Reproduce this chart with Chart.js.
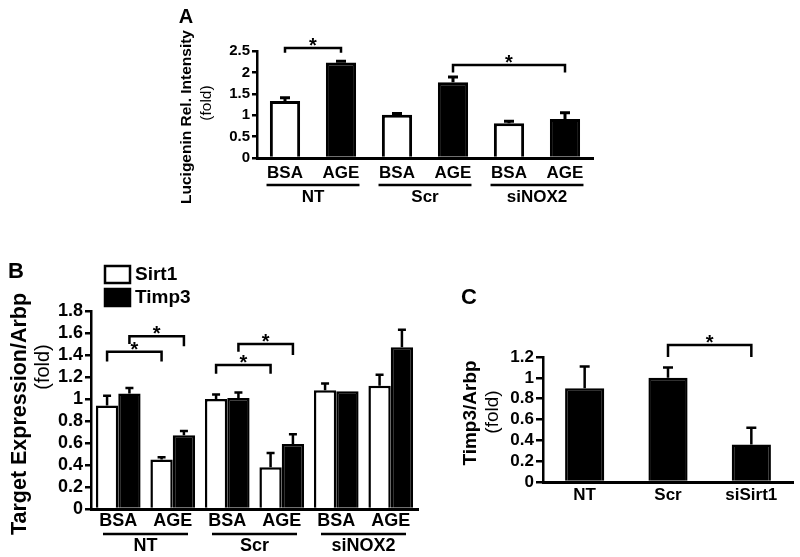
<!DOCTYPE html>
<html><head><meta charset="utf-8">
<script src="https://cdn.jsdelivr.net/npm/chart.js@4.4.1/dist/chart.umd.min.js"></script>
<style>
html,body{margin:0;padding:0;background:#fff;}
#wrap{position:relative;width:800px;height:557px;overflow:hidden;}
#wrap canvas{position:absolute;left:0;top:0;}
</style></head><body>
<div id="wrap">
<canvas id="cA" width="800" height="557"></canvas>
<canvas id="cB" width="800" height="557"></canvas>
<canvas id="cC" width="800" height="557"></canvas>
</div>
<script>
// ---------- DATA ----------
// Panel A
const catsA = ['BSA', 'AGE', 'BSA', 'AGE', 'BSA', 'AGE'];
const groupsA = ['NT', 'Scr', 'siNOX2'];
const valuesA = [1.33, 2.23, 1.01, 1.77, 0.81, 0.91];
const errorsA = [0.08, 0.03, 0.03, 0.12, 0.05, 0.15];
const yTicksA = [0, 0.5, 1, 1.5, 2, 2.5];
const yTickLabelsA = ['0', '0.5', '1', '1.5', '2', '2.5'];

// Panel B
const catsB = ['BSA', 'AGE', 'BSA', 'AGE', 'BSA', 'AGE'];
const groupsB = ['NT', 'Scr', 'siNOX2'];
const seriesNamesB = ['Sirt1', 'Timp3'];
const sirt1B = [0.94, 0.45, 1.00, 0.38, 1.08, 1.12];
const sirt1ErrB = [0.09, 0.02, 0.04, 0.13, 0.06, 0.10];
const timp3B = [1.05, 0.67, 1.01, 0.59, 1.07, 1.47];
const timp3ErrB = [0.05, 0.04, 0.05, 0.09, 0.00, 0.16];
const yTicksB = [0, 0.2, 0.4, 0.6, 0.8, 1, 1.2, 1.4, 1.6, 1.8];
const yTickLabelsB = ['0', '0.2', '0.4', '0.6', '0.8', '1', '1.2', '1.4', '1.6', '1.8'];

// Panel C
const catsC = ['NT', 'Scr', 'siSirt1'];
const valuesC = [0.90, 1.00, 0.36];
const errorsC = [0.21, 0.10, 0.16];
const yTicksC = [0, 0.2, 0.4, 0.6, 0.8, 1, 1.2];
const yTickLabelsC = ['0', '0.2', '0.4', '0.6', '0.8', '1', '1.2'];

// significance brackets: [category, dataset] endpoints, heights in data units
const sigA = [
  { from: [0, 0], to: [1, 0], top: 2.57, legFrom: 2.46, legTo: 2.46 },
  { from: [3, 0], to: [5, 0], top: 2.17, legFrom: 2.0, legTo: 2.0 }
];
const sigB = [
  { from: [0, 0], to: [1, 0], top: 1.43, legFrom: 1.34, legTo: 1.34 },
  { from: [0, 1], to: [1, 1], top: 1.57, legFrom: 1.50, legTo: 1.48 },
  { from: [2, 0], to: [3, 0], top: 1.31, legFrom: 1.23, legTo: 1.23 },
  { from: [2, 1], to: [3, 1], top: 1.50, legFrom: 1.43, legTo: 1.40 }
];
const sigC = [
  { from: [1, 0], to: [2, 0], top: 1.315, legFrom: 1.2, legTo: 1.2 }
];

// ---------- STYLE / HELPERS ----------
const FF = "'Liberation Sans', Arial, Helvetica, sans-serif";
Chart.defaults.font.family = FF;
Chart.defaults.color = '#000';

function fixedTicks(vals) {
  return s => { s.ticks = vals.map(v => ({ value: v })); };
}

function drawErrorBars(chart, errs, capW, lw) {
  const ctx = chart.ctx, ys = chart.scales.y;
  ctx.save();
  ctx.strokeStyle = '#000';
  ctx.lineWidth = lw;
  chart.data.datasets.forEach((ds, di) => {
    const meta = chart.getDatasetMeta(di);
    meta.data.forEach((el, i) => {
      const e = errs[di][i];
      if (!e) return;
      const yTop = ys.getPixelForValue(ds.data[i]);
      const yE = ys.getPixelForValue(ds.data[i] + e);
      ctx.beginPath();
      ctx.moveTo(el.x, yTop);
      ctx.lineTo(el.x, yE);
      ctx.moveTo(el.x - capW / 2, yE);
      ctx.lineTo(el.x + capW / 2, yE);
      ctx.stroke();
    });
  });
  ctx.restore();
}

function drawBrackets(chart, sigs, lw, starSize) {
  const ctx = chart.ctx, ys = chart.scales.y;
  ctx.save();
  ctx.strokeStyle = '#000';
  ctx.fillStyle = '#000';
  ctx.lineWidth = lw;
  sigs.forEach(s => {
    const x1 = chart.getDatasetMeta(s.from[1]).data[s.from[0]].x;
    const x2 = chart.getDatasetMeta(s.to[1]).data[s.to[0]].x;
    const yt = ys.getPixelForValue(s.top);
    ctx.beginPath();
    ctx.moveTo(x1, ys.getPixelForValue(s.legFrom));
    ctx.lineTo(x1, yt);
    ctx.lineTo(x2, yt);
    ctx.lineTo(x2, ys.getPixelForValue(s.legTo));
    ctx.stroke();
    ctx.font = 'bold ' + starSize + 'px ' + FF;
    ctx.textAlign = 'center';
    ctx.textBaseline = 'alphabetic';
    ctx.fillText('*', (x1 + x2) / 2, yt + starSize * 0.2);
  });
  ctx.restore();
}

function drawRotated(ctx, text, x, y, font) {
  ctx.save();
  ctx.translate(x, y);
  ctx.rotate(-Math.PI / 2);
  ctx.font = font;
  ctx.textAlign = 'center';
  ctx.textBaseline = 'middle';
  ctx.fillStyle = '#000';
  ctx.fillText(text, 0, 0);
  ctx.restore();
}

function drawGroups(chart, groups, lineY, labelY, frac, font, lw) {
  const ctx = chart.ctx, xs = chart.scales.x;
  const cw = xs.getPixelForValue(1) - xs.getPixelForValue(0);
  ctx.save();
  ctx.strokeStyle = '#000';
  ctx.fillStyle = '#000';
  ctx.lineWidth = lw;
  ctx.font = font;
  ctx.textAlign = 'center';
  ctx.textBaseline = 'middle';
  groups.forEach((g, gi) => {
    const c = (xs.getPixelForValue(gi * 2) + xs.getPixelForValue(gi * 2 + 1)) / 2;
    const half = cw * frac;
    ctx.beginPath();
    ctx.moveTo(c - half, lineY);
    ctx.lineTo(c + half, lineY);
    ctx.stroke();
    ctx.fillText(g, c, labelY);
  });
  ctx.restore();
}

function drawLetter(ctx, t, x, y, size) {
  ctx.save();
  ctx.font = 'bold ' + size + 'px ' + FF;
  ctx.textAlign = 'center';
  ctx.textBaseline = 'middle';
  ctx.fillStyle = '#000';
  ctx.fillText(t, x, y);
  ctx.restore();
}

function yScaleOpts(min, max, ticks, labels, fontSize, tickLen, pad, width) {
  return {
    min: min, max: max,
    afterBuildTicks: fixedTicks(ticks),
    afterFit: s => { s.width = width; },
    ticks: {
      autoSkip: false,
      callback: (v, i) => labels[i],
      font: { size: fontSize, weight: 'bold' },
      color: '#000',
      padding: pad
    },
    grid: { display: true, drawOnChartArea: false, drawTicks: true, tickLength: tickLen, color: '#000', lineWidth: 2.5 },
    border: { display: true, color: '#000', width: 2.5 }
  };
}

function xScaleOpts(fontSize, pad, height, borderW) {
  return {
    z: 1,
    afterFit: s => { s.height = height; },
    ticks: { font: { size: fontSize, weight: 'bold' }, color: '#000', padding: pad, maxRotation: 0, autoSkip: false },
    grid: { display: false, drawTicks: false },
    border: { display: true, color: '#000', width: borderW }
  };
}

const common = {
  responsive: false,
  animation: false,
  devicePixelRatio: 1,
  plugins: { legend: { display: false }, tooltip: { enabled: false } }
};

// ---------- PANEL A ----------
new Chart(document.getElementById('cA'), {
  type: 'bar',
  data: {
    labels: catsA,
    datasets: [{
      data: valuesA,
      backgroundColor: valuesA.map((v, i) => i % 2 === 0 ? '#ffffff' : '#000000'),
      borderColor: '#000',
      borderWidth: 3,
      borderSkipped: 'start',
      barPercentage: 0.54,
      categoryPercentage: 1.0
    }]
  },
  options: Object.assign({}, common, {
    layout: { padding: { left: 190, right: 800 - 593, top: 51, bottom: 557 - 158 - 40 } },
    scales: {
      x: xScaleOpts(17, 5, 40, 3),
      y: yScaleOpts(0, 2.5, yTicksA, yTickLabelsA, 15, 5, 2, 257 - 190)
    }
  }),
  plugins: [{
    id: 'decoA',
    afterDatasetsDraw(chart) {
      drawErrorBars(chart, [errorsA], 10, 3);
    },
    afterDraw(chart) {
      const ctx = chart.ctx;
      drawBrackets(chart, sigA, 2.5, 20);
      drawGroups(chart, groupsA, 185, 197, 0.83, 'bold 17px ' + FF, 2.5);
      drawRotated(ctx, 'Lucigenin Rel. Intensity', 187, 117, 'bold 15.5px ' + FF);
      drawRotated(ctx, '(fold)', 207, 103, '15.5px ' + FF);
      drawLetter(ctx, 'A', 186, 17, 20);
    }
  }]
});

// ---------- PANEL B ----------
new Chart(document.getElementById('cB'), {
  type: 'bar',
  data: {
    labels: catsB,
    datasets: [
      { label: seriesNamesB[0], data: sirt1B, backgroundColor: '#ffffff', borderColor: '#000', borderWidth: 2.5, borderSkipped: 'start', categoryPercentage: 0.82, barPercentage: 1.0 },
      { label: seriesNamesB[1], data: timp3B, backgroundColor: '#000000', borderColor: '#000', borderWidth: 2.5, borderSkipped: 'start', categoryPercentage: 0.82, barPercentage: 1.0 }
    ]
  },
  options: Object.assign({}, common, {
    layout: { padding: { left: 55, right: 800 - 418, top: 311, bottom: 557 - 509 - 20 } },
    scales: {
      x: xScaleOpts(18, 1, 20, 3),
      y: yScaleOpts(0, 1.8, yTicksB, yTickLabelsB, 18, 6, 2, 91 - 55)
    }
  }),
  plugins: [{
    id: 'decoB',
    afterDatasetsDraw(chart) {
      drawErrorBars(chart, [sirt1ErrB, timp3ErrB], 8, 2.5);
    },
    afterDraw(chart) {
      const ctx = chart.ctx;
      drawBrackets(chart, sigB, 2.5, 20);
      drawGroups(chart, groupsB, 534, 546, 0.78, 'bold 18px ' + FF, 2.5);
      drawRotated(ctx, 'Target Expression/Arbp', 20, 414, 'bold 21.5px ' + FF);
      drawRotated(ctx, '(fold)', 43, 367, '20px ' + FF);
      drawLetter(ctx, 'B', 16, 272, 22);
      // legend
      ctx.save();
      chart.data.datasets.forEach((ds, i) => {
        const y0 = 266 + i * 23;
        ctx.fillStyle = ds.backgroundColor;
        ctx.fillRect(105, y0, 25, 17);
        ctx.strokeStyle = '#000';
        ctx.lineWidth = 2.5;
        ctx.strokeRect(105, y0, 25, 17);
        ctx.fillStyle = '#000';
        ctx.font = 'bold 19px ' + FF;
        ctx.textAlign = 'left';
        ctx.textBaseline = 'middle';
        ctx.fillText(ds.label, 135, y0 + 9);
      });
      ctx.restore();
    }
  }]
});

// ---------- PANEL C ----------
new Chart(document.getElementById('cC'), {
  type: 'bar',
  data: {
    labels: catsC,
    datasets: [{
      data: valuesC,
      backgroundColor: '#000000',
      borderColor: '#000',
      borderWidth: 2.5,
      borderSkipped: 'start',
      barPercentage: 0.47,
      categoryPercentage: 1.0
    }]
  },
  options: Object.assign({}, common, {
    layout: { padding: { left: 500, right: 800 - 793, top: 357, bottom: 557 - 482 - 30 } },
    scales: {
      x: xScaleOpts(17, 3, 30, 3),
      y: yScaleOpts(0, 1.2, yTicksC, yTickLabelsC, 17, 7, 2, 543 - 500)
    }
  }),
  plugins: [{
    id: 'decoC',
    afterDatasetsDraw(chart) {
      drawErrorBars(chart, [errorsC], 10, 2.5);
    },
    afterDraw(chart) {
      const ctx = chart.ctx;
      drawBrackets(chart, sigC, 2.5, 20);
      drawRotated(ctx, 'Timp3/Arbp', 471, 413, 'bold 19px ' + FF);
      drawRotated(ctx, '(fold)', 493, 412, '19px ' + FF);
      drawLetter(ctx, 'C', 469, 298, 22);
    }
  }]
});
</script>
</body></html>
